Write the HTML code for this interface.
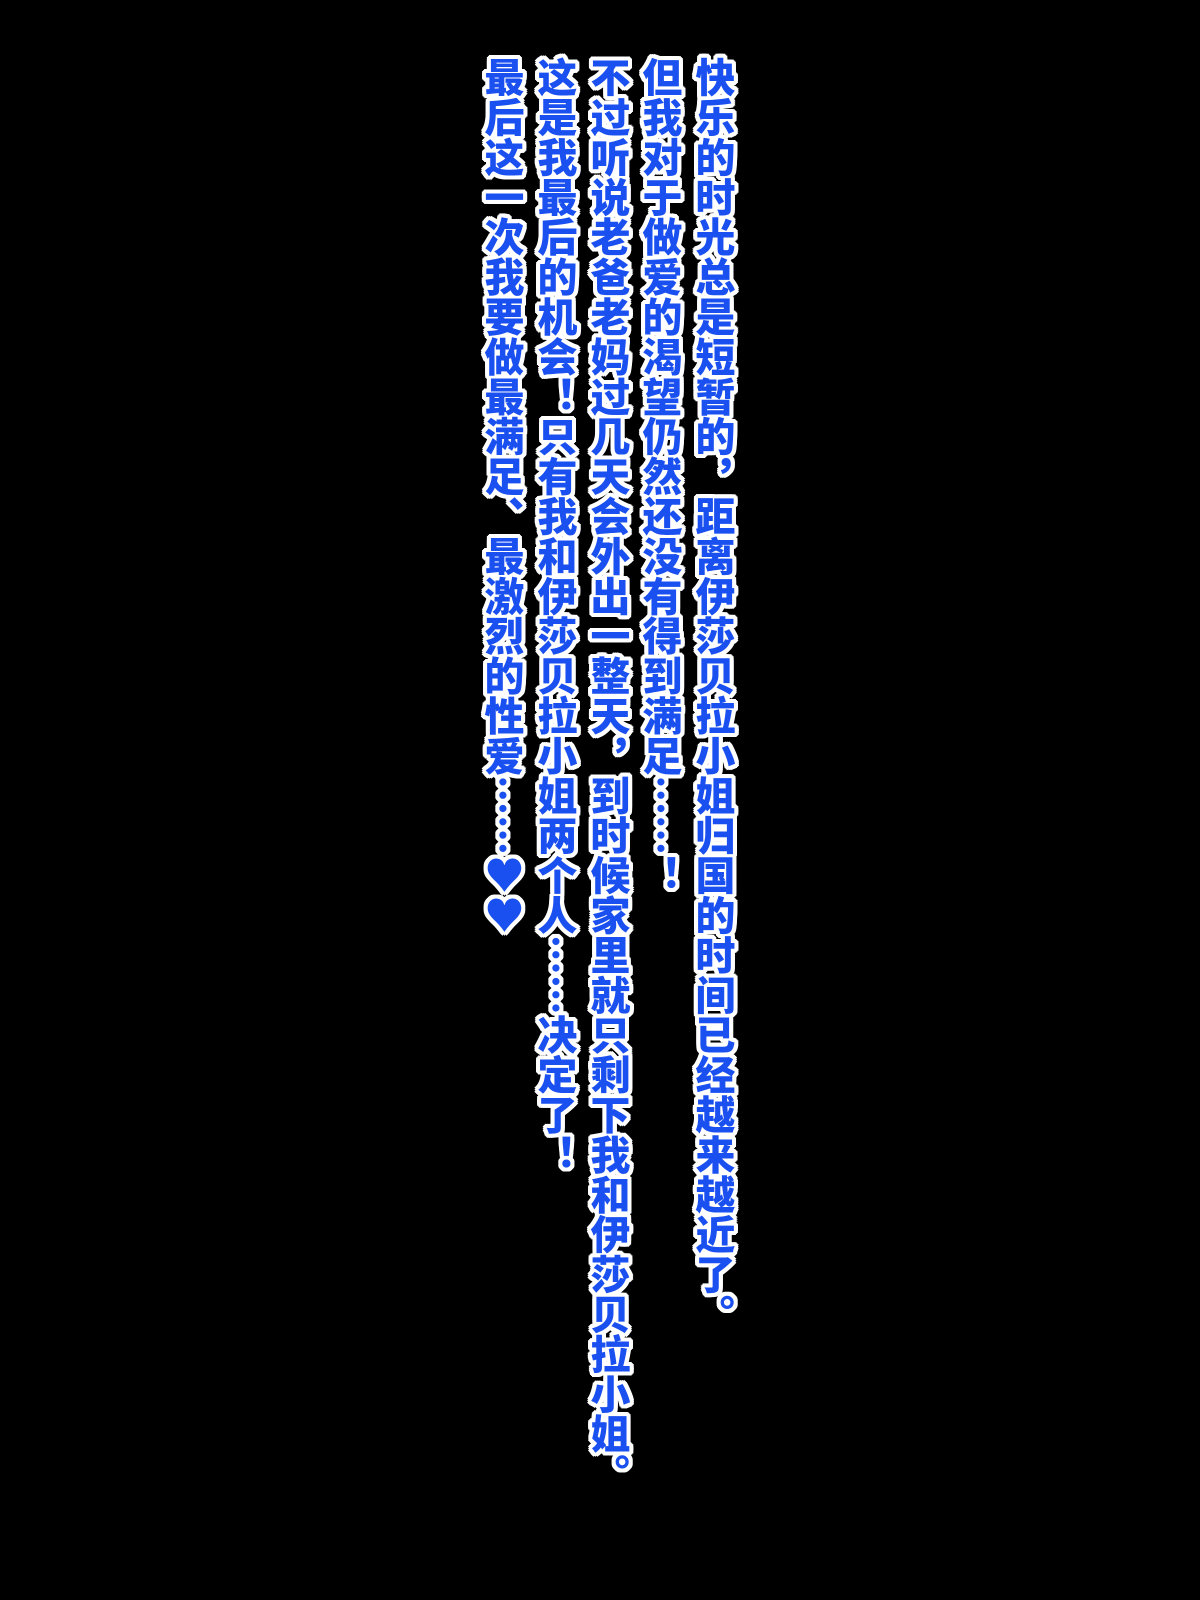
<!DOCTYPE html>
<html><head><meta charset="utf-8"><style>
html,body{margin:0;padding:0;background:#000;width:1200px;height:1600px;overflow:hidden}
.c{position:absolute;top:57px;writing-mode:vertical-rl;font-family:"Noto Sans CJK SC","WenQuanYi Zen Hei",sans-serif;font-weight:900;font-size:39.9px;line-height:50px;color:#1a4ff0;-webkit-text-stroke:3px #fff;paint-order:stroke fill;white-space:nowrap;
text-shadow:4px 0 0 #fff,-4px 0 0 #fff,0 4px 0 #fff,0 -4px 0 #fff,3px 3px 0 #fff,-3px 3px 0 #fff,3px -3px 0 #fff,-3px -3px 0 #fff,2px 4px 0 #fff,-2px 4px 0 #fff,2px -4px 0 #fff,-2px -4px 0 #fff,4px 2px 0 #fff,-4px 2px 0 #fff,4px -2px 0 #fff,-4px -2px 0 #fff}
</style></head><body>
<div class="c" style="left:690px">快乐的时光总是短暂的，距离伊莎贝拉小姐归国的时间已经越来越近了。</div>
<div class="c" style="left:637px">但我对于做爱的渴望仍然还没有得到满足……！</div>
<div class="c" style="left:585px">不过听说老爸老妈过几天会外出一整天，到时候家里就只剩下我和伊莎贝拉小姐。</div>
<div class="c" style="left:532px">这是我最后的机会！只有我和伊莎贝拉小姐两个人……决定了！</div>
<div class="c" style="left:479px">最后这一次我要做最满足、最激烈的性爱……♥♥</div>
</body></html>
